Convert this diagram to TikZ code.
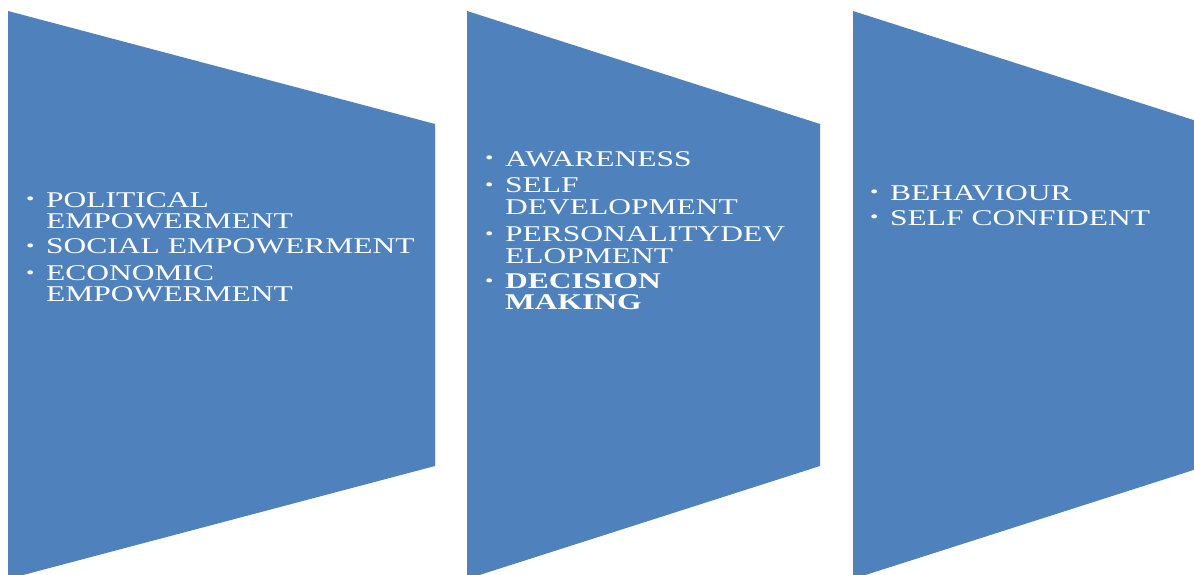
\documentclass[tikz,border=0pt]{standalone}
\usepackage{fontspec}
\setmainfont{Liberation Serif}[FakeStretch=1.40]
\definecolor{panelblue}{HTML}{4F81BD}
\tikzset{
  panel/.style={fill=panelblue, draw=none},
  item/.style={anchor=base west, inner sep=0pt, text=white,
    font=\fontsize{22.5}{21.5}\selectfont},
}
\newcommand{\bulletitem}[1]{\makebox[20pt][l]{\raisebox{2pt}{\fontsize{17}{17}\selectfont\textbullet}}\parbox[t]{420pt}{\raggedright #1}}
\begin{document}
\begin{tikzpicture}[x=1pt, y=-1pt]
  \useasboundingbox (0,0) rectangle (1194,575);
  \clip (0,0) rectangle (1194,575);
  % three tapering panels
  \fill[panel] (8,11) -- (435,124) -- (435,466) -- (8,579) -- cycle;
  \fill[panel] (467,11) -- (820,124) -- (820,466) -- (467,579) -- cycle;
  \fill[panel] (853,11) -- (1206,124) -- (1206,466) -- (853,579) -- cycle;

  % first panel
  \node[item] (pol) at (26,207) {\bulletitem{POLITICAL\\EMPOWERMENT}};
  \node[item] (soc) at (26,253) {\bulletitem{SOCIAL EMPOWERMENT}};
  \node[item] (eco) at (26,280) {\bulletitem{ECONOMIC\\EMPOWERMENT}};

  % second panel
  \node[item] (awa) at (485,166) {\bulletitem{AWARENESS}};
  \node[item] (sdv) at (485,193) {\bulletitem{SELF\\DEVELOPMENT}};
  \node[item] (per) at (485,241.5) {\bulletitem{PERSONALITYDEV\\ELOPMENT}};
  \node[item] (dec) at (485,288) {\bulletitem{\bfseries DECISION\\MAKING}};

  % third panel
  \node[item] (beh) at (870,200) {\bulletitem{BEHAVIOUR}};
  \node[item] (sco) at (870,225) {\bulletitem{SELF CONFIDENT}};
\end{tikzpicture}
\end{document}
